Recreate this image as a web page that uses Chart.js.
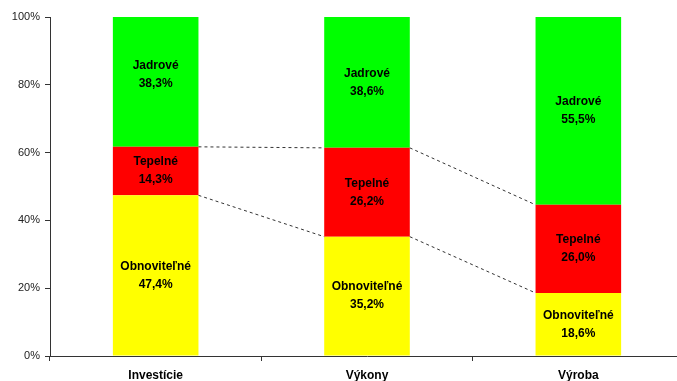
<!DOCTYPE html>
<html>
<head>
<meta charset="utf-8">
<script src="https://cdn.jsdelivr.net/npm/chart.js@4"></script>
<style>
  html, body { margin: 0; padding: 0; background: #fff; overflow: hidden; }
  #wrap { position: relative; width: 684px; height: 381px; }
</style>
</head>
<body>
<div id="wrap"><canvas id="myChart"></canvas></div>
<script>
const categories = ['Investície', 'Výkony', 'Výroba']
const seriesNames = ['Obnoviteľné', 'Tepelné', 'Jadrové']
const obnovitelne = [47.4, 35.2, 18.6]
const tepelne = [14.3, 26.2, 26.0]
const jadrove = [38.3, 38.6, 55.5]
const yTicks = [0, 20, 40, 60, 80, 100]

const colorAry = ['#FFFF00', '#FF0000', '#00FF00']
const axisColor = '#333333'

const fmt = (v) => v.toFixed(1).replace('.', ',') + '%'

// dashed "series lines" between adjacent bars, at the top of the lower two segments
const seriesLines = {
    id: 'seriesLines',
    afterDatasetsDraw(chart) {
        const ctx = chart.ctx
        ctx.save()
        ctx.strokeStyle = axisColor
        ctx.lineWidth = 1
        ctx.setLineDash([3, 3])
        for (let d = 0; d < 2; d++) {
            const bars = chart.getDatasetMeta(d).data
            for (let i = 0; i < bars.length - 1; i++) {
                const a = bars[i], b = bars[i + 1]
                ctx.beginPath()
                ctx.moveTo(a.x + a.width / 2, a.y)
                ctx.lineTo(b.x - b.width / 2, b.y)
                ctx.stroke()
            }
        }
        ctx.restore()
    }
}

// name + value label centered in every segment
const segmentLabels = {
    id: 'segmentLabels',
    afterDatasetsDraw(chart) {
        const ctx = chart.ctx
        ctx.save()
        ctx.font = 'bold 12px "Liberation Sans", Arial, sans-serif'
        ctx.fillStyle = '#000'
        ctx.textAlign = 'center'
        ctx.textBaseline = 'middle'
        chart.data.datasets.forEach((ds, d) => {
            chart.getDatasetMeta(d).data.forEach((bar, i) => {
                let cy = (bar.y + bar.base) / 2
                if (d === 2 && i === 0) cy -= 7  // label was nudged up in the original
                ctx.fillText(ds.label, bar.x, cy - 9)
                ctx.fillText(fmt(ds.data[i]), bar.x, cy + 9)
            })
        })
        ctx.restore()
    }
}

const datasets = [obnovitelne, tepelne, jadrove].map((data, idx) => ({
    label: seriesNames[idx],
    data: data,
    backgroundColor: colorAry[idx],
    borderWidth: 0,
    barPercentage: 0.405,
    categoryPercentage: 1
}))

new Chart(document.getElementById('myChart'), {
    type: 'bar',
    data: { labels: categories, datasets: datasets },
    options: {
        maintainAspectRatio: false,
        responsive: true,
        animation: false,
        layout: { padding: { top: 17, right: 0, left: 0, bottom: 0 } },
        scales: {
            x: {
                stacked: true,
                grid: {
                    offset: true,
                    drawOnChartArea: false,
                    drawTicks: true,
                    tickLength: 5,
                    color: axisColor
                },
                border: { color: axisColor, width: 1 },
                ticks: {
                    color: '#000',
                    padding: 7,
                    font: { family: '"Liberation Sans", Arial, sans-serif', size: 12, weight: 'bold' }
                },
                afterFit(scale) { scale.height = 25 }
            },
            y: {
                stacked: true,
                min: 0,
                max: 100,
                afterBuildTicks(scale) { scale.ticks = yTicks.map(v => ({ value: v })) },
                grid: {
                    drawOnChartArea: false,
                    drawTicks: true,
                    tickLength: 5,
                    color: axisColor
                },
                border: { color: axisColor, width: 1 },
                ticks: {
                    color: '#222',
                    padding: 5,
                    callback: (v) => v + '%',
                    font: { family: '"Liberation Sans", Arial, sans-serif', size: 11 }
                },
                afterFit(scale) { scale.width = 50 }
            }
        },
        plugins: {
            legend: { display: false },
            tooltip: { enabled: false },
            title: { display: false }
        }
    },
    plugins: [seriesLines, segmentLabels]
})
</script>
</body>
</html>
